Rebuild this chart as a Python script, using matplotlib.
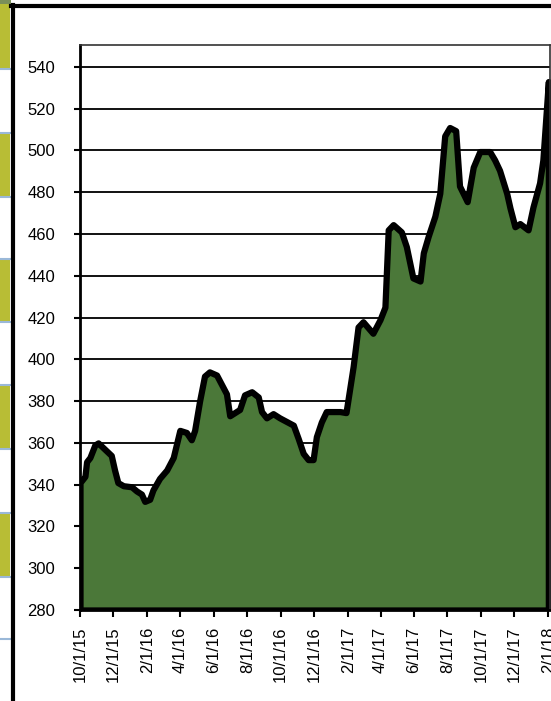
import matplotlib
matplotlib.use('Agg')
import matplotlib.pyplot as plt
import matplotlib.patches as mpatches
import matplotlib.lines as mlines
import pandas as pd

plt.rcParams['font.family'] = ['Liberation Sans', 'DejaVu Sans']

# values
dates = ['10/1/15', '10/10/15', '10/13/15', '10/19/15', '10/28/15', '11/3/15', '11/15/15',
         '11/27/15', '12/3/15', '12/9/15', '12/19/15', '1/3/16', '1/12/16', '1/21/16',
         '1/27/16', '2/5/16', '2/11/16', '2/23/16', '3/7/16', '3/19/16', '3/31/16',
         '4/12/16', '4/21/16', '4/27/16', '5/6/16', '5/15/16', '5/24/16', '6/6/16',
         '6/15/16', '6/24/16', '6/30/16', '7/18/16', '7/27/16', '8/9/16', '8/21/16',
         '8/27/16', '9/5/16', '9/17/16', '9/29/16', '10/24/16', '11/2/16', '11/11/16',
         '11/20/16', '11/29/16', '12/5/16', '12/14/16', '12/23/16', '1/17/17', '1/28/17',
         '2/10/17', '2/19/17', '2/28/17', '3/18/17', '3/31/17', '4/9/17', '4/15/17',
         '4/24/17', '5/9/17', '5/18/17', '5/30/17', '6/12/17', '6/18/17', '6/27/17',
         '7/9/17', '7/18/17', '7/27/17', '8/5/17', '8/16/17', '8/23/17', '9/6/17',
         '9/17/17', '9/29/17', '10/17/17', '10/26/17', '11/4/17', '11/17/17', '11/23/17',
         '12/2/17', '12/11/17', '12/26/17', '1/4/18', '1/16/18', '1/22/18', '2/1/18']
values = [341, 344, 351, 353, 359, 360, 357,
          354, 347, 341, 339.5, 339, 337, 335.5,
          332, 333, 337.5, 343, 347, 353, 366,
          365, 361.5, 366, 380, 392, 394, 392.5,
          388, 383.5, 373, 376, 383, 384.5, 382,
          375, 372, 374, 372, 368.5, 362, 355,
          352, 352, 363, 370, 375, 375, 374.5,
          396.5, 415.5, 418, 412.5, 419, 425, 462,
          464.5, 461, 454, 439, 437.5, 451, 459,
          468.5, 479.5, 507, 511, 509.5, 483, 475.5,
          492, 499.5, 499.5, 495.5, 490.5, 479.5, 472.5,
          463.5, 465, 462, 473, 484.5, 495.5, 533]

tick_dates = ['10/1/15', '12/1/15', '2/1/16', '4/1/16', '6/1/16', '8/1/16', '10/1/16',
              '12/1/16', '2/1/17', '4/1/17', '6/1/17', '8/1/17', '10/1/17', '12/1/17', '2/1/18']
yticks = [280, 300, 320, 340, 360, 380, 400, 420, 440, 460, 480, 500, 520, 540]

x = pd.to_datetime(dates, format='%m/%d/%y')
xt = pd.to_datetime(tick_dates, format='%m/%d/%y')

fig = plt.figure(figsize=(5.51, 7.01), dpi=100)
fig.patch.set_facecolor('white')

# bits of the surrounding sheet on the left
W, H = 551.0, 701.0
blocks = [(0, 69), (133, 197), (259, 322), (385, 449), (513, 577)]
for y0, y1 in blocks:
    fig.add_artist(mpatches.Rectangle((0, 1 - y1 / H), 10 / W, (y1 - y0) / H,
                                      facecolor='#b8bd35', edgecolor='none'))
for yb in [69, 133, 197, 259, 322, 385, 449, 513, 577, 639]:
    fig.add_artist(mlines.Line2D([0, 10 / W], [1 - yb / H, 1 - yb / H],
                                 color='#9ab8d8', lw=1.5))
fig.add_artist(mpatches.Rectangle((0, 1 - 3.5 / H), 11 / W, 3.5 / H,
                                  facecolor='#7a8f5a', edgecolor='none'))
# black chart frame
fig.add_artist(mlines.Line2D([12.5 / W, 12.5 / W], [0, 1 - 5 / H], color='black', lw=3))
fig.add_artist(mlines.Line2D([11 / W, 1], [1 - 5.5 / H, 1 - 5.5 / H], color='black', lw=3))

ax = fig.add_axes([80 / W, 1 - 610 / H, 470 / W, 565 / H])
ax.set_facecolor('white')

for yv in yticks[1:]:
    ax.axhline(yv, color='#111111', lw=1.4, zorder=1)

ax.fill_between(x, values, 280, facecolor='#4b7839', edgecolor='black',
                linewidth=4.5, joinstyle='round', zorder=2)

ax.set_ylim(280, 550.5)
ax.set_xlim(pd.Timestamp('2015-10-01'), pd.Timestamp('2018-02-04'))
ax.set_yticks(yticks)
ax.set_yticklabels([str(v) for v in yticks], fontsize=12)
ax.set_xticks(xt)
ax.set_xticklabels(tick_dates, rotation=90, fontsize=12)
ax.tick_params(axis='y', length=4, width=1.5, pad=14, direction='out')
ax.tick_params(axis='x', length=5, width=1.5, pad=7, direction='out')

ax.spines['left'].set_linewidth(2)
ax.spines['left'].set_color('black')
ax.spines['bottom'].set_linewidth(2)
ax.spines['bottom'].set_color('black')
ax.spines['top'].set_linewidth(1.2)
ax.spines['top'].set_color('#333333')
ax.spines['right'].set_linewidth(1.2)
ax.spines['right'].set_color('#333333')

fig.savefig('out.png', dpi=100)
